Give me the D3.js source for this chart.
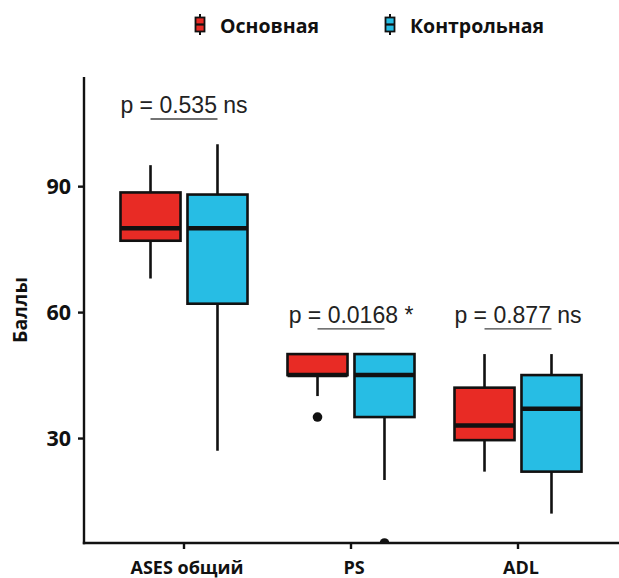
<!DOCTYPE html>
<html><head><meta charset="utf-8">
<script src="https://cdn.jsdelivr.net/npm/d3@7"></script>
<style>body{margin:0;background:#fff}svg{display:block}</style>
</head><body>
<script>
const categories = ["ASES общий", "PS", "ADL"];
const groups = ["Основная", "Контрольная"];
const colors = ["#E82B25", "#27BDE4"];
// Основная
const mainMin = [68, 40, 22];
const mainQ1 = [77, 45, 29.5];
const mainMed = [80, 45, 33];
const mainQ3 = [88.5, 50, 42];
const mainMax = [95, 50, 50];
const mainOut = [[], [35], []];
// Контрольная
const ctrlMin = [27, 20, 12];
const ctrlQ1 = [62, 35, 22];
const ctrlMed = [80, 45, 37];
const ctrlQ3 = [88, 50, 45];
const ctrlMax = [100, 50, 50];
const ctrlOut = [[], [5], []];
const pLabels = ["p = 0.535 ns", "p = 0.0168 *", "p = 0.877 ns"];
const pY = [106, 56, 56];
const yTicks = [30, 60, 90];

(function () {
const W = 619, H = 578;
const svg = d3.select("body").append("svg").attr("width", W).attr("height", H);
const pL = 84, pB = 543, pT = 77, pR = 619;

const y = d3.scaleLinear().domain([5, 116]).range([pB, pT]);
const x = d3.scaleBand().domain(categories).range([100.5, 601.5]).padding(0);
const xs = d3.scaleBand().domain(groups).range([-63.5, 63.5]).paddingInner(0.104).paddingOuter(0);

const stats = [
  {min: mainMin, q1: mainQ1, med: mainMed, q3: mainQ3, max: mainMax, out: mainOut},
  {min: ctrlMin, q1: ctrlQ1, med: ctrlMed, q3: ctrlQ3, max: ctrlMax, out: ctrlOut}
];

svg.append("defs").append("clipPath").attr("id", "clip")
  .append("rect").attr("x", pL).attr("y", 0).attr("width", pR - pL).attr("height", pB);

const plot = svg.append("g").attr("clip-path", "url(#clip)");
const bw = xs.bandwidth();

categories.forEach((c, i) => {
  const cx0 = x(c) + x.bandwidth() / 2;
  groups.forEach((g, j) => {
    const s = stats[j];
    const bx = cx0 + xs(g);
    const cx = bx + bw / 2;
    const gg = plot.append("g");
    gg.append("line").attr("x1", cx).attr("x2", cx).attr("y1", y(s.max[i])).attr("y2", y(s.min[i]))
      .attr("stroke", "#111").attr("stroke-width", 2.6);
    gg.append("rect").attr("x", bx).attr("y", y(s.q3[i])).attr("width", bw)
      .attr("height", y(s.q1[i]) - y(s.q3[i]))
      .attr("fill", colors[j]).attr("stroke", "#111").attr("stroke-width", 2.6);
    gg.append("line").attr("x1", bx).attr("x2", bx + bw).attr("y1", y(s.med[i])).attr("y2", y(s.med[i]))
      .attr("stroke", "#111").attr("stroke-width", 4.5);
    s.out[i].forEach(v => {
      gg.append("circle").attr("cx", cx).attr("cy", y(v)).attr("r", 4.8).attr("fill", "#111");
    });
  });
  const c1 = cx0 + xs(groups[0]) + bw / 2, c2 = cx0 + xs(groups[1]) + bw / 2;
  svg.append("line").attr("x1", c1).attr("x2", c2).attr("y1", y(pY[i])).attr("y2", y(pY[i]))
    .attr("stroke", "#444").attr("stroke-width", 1.4);
  svg.append("text").attr("x", cx0).attr("y", y(pY[i]) - 6).attr("text-anchor", "middle")
    .attr("font-family", "Liberation Sans, Arial, sans-serif").attr("font-size", 23)
    .attr("fill", "#222").text(pLabels[i]);
});

const font = "'Open Sans', 'Noto Sans', sans-serif";
const ya = svg.append("g").attr("transform", `translate(${pL},0)`)
  .call(d3.axisLeft(y).tickValues(yTicks).tickSize(6).tickPadding(7));
ya.select(".domain").remove();
ya.selectAll(".tick line").attr("stroke", "#111").attr("stroke-width", 2.4);
ya.selectAll(".tick text").attr("font-family", font).attr("font-weight", 700)
  .attr("font-size", 21.5).attr("fill", "#111").attr("dy", "0.36em");
svg.append("line").attr("x1", pL).attr("x2", pL).attr("y1", pT).attr("y2", pB + 1.2)
  .attr("stroke", "#111").attr("stroke-width", 2.4);

const xa = svg.append("g").attr("transform", `translate(0,${pB})`)
  .call(d3.axisBottom(x).tickSize(6).tickPadding(9));
xa.select(".domain").remove();
xa.selectAll(".tick line").attr("stroke", "#111").attr("stroke-width", 2.4);
xa.selectAll(".tick text").attr("font-family", font).attr("font-weight", 700)
  .attr("font-size", 18).attr("fill", "#111").attr("dx", 3).attr("dy", "0.9em");
svg.append("line").attr("x1", pL - 1.2).attr("x2", pR).attr("y1", pB).attr("y2", pB)
  .attr("stroke", "#111").attr("stroke-width", 2.4);

svg.append("text").attr("transform", `translate(27,${(pT + pB) / 2}) rotate(-90)`)
  .attr("text-anchor", "middle").attr("font-family", font).attr("font-weight", 700)
  .attr("font-size", 19.5).attr("fill", "#111").text("Баллы");

const legX = [200, 390];
const legend = svg.append("g");
groups.forEach((g, j) => {
  const lx = legX[j];
  const lg = legend.append("g").attr("transform", `translate(${lx},0)`);
  lg.append("line").attr("x1", 0).attr("x2", 0).attr("y1", 14).attr("y2", 35).attr("stroke", "#111").attr("stroke-width", 2);
  lg.append("rect").attr("x", -4.5).attr("y", 17.5).attr("width", 9).attr("height", 14)
    .attr("fill", colors[j]).attr("stroke", "#111").attr("stroke-width", 1.8);
  lg.append("line").attr("x1", -4.5).attr("x2", 4.5).attr("y1", 24.5).attr("y2", 24.5).attr("stroke", "#111").attr("stroke-width", 2.2);
  lg.append("text").attr("x", 20).attr("y", 33).attr("font-family", font).attr("font-weight", 700)
    .attr("font-size", 19.5).attr("fill", "#111").text(g);
});
})();
</script>
</body></html>
